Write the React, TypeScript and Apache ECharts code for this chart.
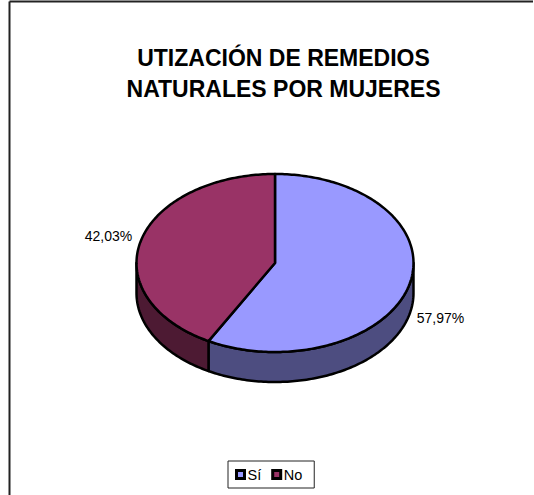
import React, { useEffect, useRef } from "react";
import * as echarts from "echarts";

const titleLines = ["UTIZACIÓN DE REMEDIOS", "NATURALES POR MUJERES"];
const categories = ["Sí", "No"];
const shares = [57.97, 42.03];
const shareLabels = ["57,97%", "42,03%"];
const topColors = ["#9999FF", "#993366"];
const sideColors = ["#4D4D80", "#4D1A33"];

const FONT = '"Liberation Sans", Arial, sans-serif';
const CX = 275;
const CY = 263;
const RX = 138.5;
const RY = 89;
const DEPTH = 30;
const labelAnchors = [
  { x: 440.5, y: 318 },
  { x: 108.5, y: 236 },
];

const pointAt = (deg: number, dy = 0) => {
  const r = (deg * Math.PI) / 180;
  return [CX + RX * Math.sin(r), CY - RY * Math.cos(r) + dy];
};

const arc = (from: number, to: number, dy = 0) => {
  const pts: number[][] = [];
  const n = Math.max(2, Math.ceil(Math.abs(to - from)));
  for (let i = 0; i <= n; i++) pts.push(pointAt(from + ((to - from) * i) / n, dy));
  return pts;
};

const sliceRange = (index: number) => {
  const total = shares.reduce((a, b) => a + b, 0);
  const before = shares.slice(0, index).reduce((a, b) => a + b, 0);
  return [(before / total) * 360, ((before + shares[index]) / total) * 360];
};

const renderSlice = (index: number) => () => {
  const [start, end] = sliceRange(index);
  const children: any[] = [];
  const sideFrom = Math.max(start, 90);
  const sideTo = Math.min(end, 270);
  if (sideTo > sideFrom) {
    children.push({
      type: "polygon",
      shape: { points: [...arc(sideFrom, sideTo), ...arc(sideTo, sideFrom, DEPTH)] },
      style: { fill: sideColors[index], stroke: "#000", lineWidth: 2.5, lineJoin: "round" },
    });
  }
  children.push({
    type: "polygon",
    shape: { points: [[CX, CY], ...arc(start, end)] },
    style: { fill: topColors[index], stroke: "#000", lineWidth: 2.5, lineJoin: "round" },
  });
  children.push({
    type: "text",
    style: {
      x: labelAnchors[index].x,
      y: labelAnchors[index].y,
      text: shareLabels[index],
      fill: "#000",
      font: `14px ${FONT}`,
      align: "center",
      verticalAlign: "middle",
    },
  });
  return { type: "group", children };
};

export default function App() {
  const ref = useRef<HTMLDivElement>(null);
  useEffect(() => {
    document.body.style.margin = "0";
    const chart = echarts.init(ref.current!, null, { renderer: "svg" });
    chart.setOption({
      animation: false,
      backgroundColor: "#fff",
      title: {
        text: titleLines.join("\n"),
        left: 278.5,
        top: 37,
        textAlign: "center",
        textStyle: { fontFamily: FONT, fontSize: 23, fontWeight: "bold", color: "#000", lineHeight: 31 },
      },
      legend: {
        left: 228,
        top: 461,
        orient: "horizontal",
        data: categories,
        icon: "rect",
        itemWidth: 8,
        itemHeight: 8,
        itemGap: 10,
        padding: [6, 12, 6, 7],
        selectedMode: false,
        backgroundColor: "#fff",
        borderColor: "#222",
        borderWidth: 1,
        textStyle: { fontFamily: FONT, fontSize: 14.5, color: "#000", padding: [0, 0, 0, -2] },
        itemStyle: { borderColor: "#000", borderWidth: 3 },
      },
      graphic: [
        { type: "line", shape: { x1: 9.5, y1: 1.5, x2: 533, y2: 1.5 }, style: { stroke: "#222", lineWidth: 2 }, z: 0 },
        { type: "line", shape: { x1: 9.5, y1: 1.5, x2: 9.5, y2: 495 }, style: { stroke: "#222", lineWidth: 2 }, z: 0 },
      ],
      series: categories.map((name, i) => ({
        type: "custom",
        name,
        coordinateSystem: "none",
        silent: true,
        clip: false,
        itemStyle: { color: topColors[i] },
        data: [shares[i]],
        renderItem: renderSlice(i),
      })),
    });
    return () => chart.dispose();
  }, []);
  return <div ref={ref} style={{ width: 534, height: 495 }} />;
}
